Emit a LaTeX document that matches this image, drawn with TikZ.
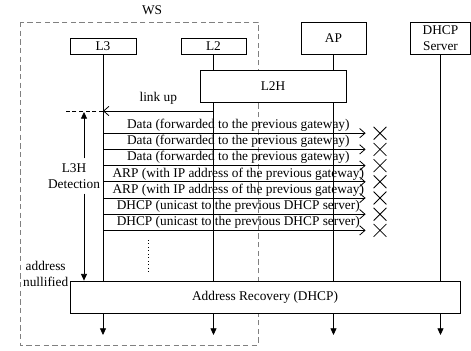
\documentclass[tikz,border=0pt]{standalone}
\usepackage{fontspec}
\setmainfont{Liberation Serif}
\usetikzlibrary{arrows.meta,positioning,shapes.misc}

\begin{document}
\begin{tikzpicture}[x=0.75pt,y=-0.75pt,
  line width=0.6pt,
  font=\fontsize{10}{12.5}\selectfont,
  block/.style={draw,fill=white,inner sep=0pt,align=center},
  wsbox/.style={draw=gray,dash pattern=on 4pt off 2.5pt},
  msg/.style={-{Straight Barb[length=4pt,width=7pt]}},
  life/.style={-{Triangle[length=5pt,width=4.5pt]}},
  lost/.style={cross out,draw,minimum size=9pt,inner sep=0pt}]

  \useasboundingbox (0,0) rectangle (471,350);

  % work station
  \node (ws) at (152,10) {WS};
  \draw[wsbox] (20,22) rectangle (258,345);

  \node[block,minimum width=49.5pt,minimum height=12pt] (l3) at (103,46) {L3};
  \node[block,minimum width=48.75pt,minimum height=12pt] (l2) at (213.5,46) {L2};
  \node[block,minimum width=48.75pt,minimum height=24pt] (ap) at (333.5,38) {AP};
  \node[block,minimum width=45pt,minimum height=24pt] (dhcp) at (440.5,38) {DHCP\\Server};

  \node[block,minimum width=109.5pt,minimum height=24pt] (l2h) at (273,86) {L2H};
  \node[block,minimum width=292.5pt,minimum height=24pt] (ar) at (265,297)
  {Address Recovery (DHCP)};

  % life lines
  \draw (l3.south) -- (l3.south |- ar.north);
  \draw (l2.south) -- (l2.south |- l2h.north);
  \draw (l2.south |- l2h.south) -- (l2.south |- ar.north);
  \draw (ap.south) -- (ap.south |- l2h.north);
  \draw (ap.south |- l2h.south) -- (ap.south |- ar.north);
  \draw (dhcp.south) -- (dhcp.south |- ar.north);

  \coordinate (bottom) at (0,335);
  \foreach \n in {l3,l2,ap,dhcp}
    \draw[life] (\n.south |- ar.south) -- (\n.south |- bottom);

  % link up
  \coordinate (lu) at (0,111);
  \coordinate (dstart) at (66,111);
  \draw[msg] (l2.south |- lu) -- node[above=1pt] (lutxt) {link up} (l3.south |- lu);
  \draw[dash pattern=on 3pt off 2pt] (l3.south |- lu) -- (dstart);

  % detection
  \node[align=center] (det) at (74,176) {L3H\\Detection};
  \coordinate (dtop) at (84,112);
  \draw[life] (det.north -| dtop) -- (dtop);
  \draw[life] (det.south -| dtop) -- (dtop |- ar.north);

  \foreach \txt [count=\i] in {
    {Data (forwarded to the previous gateway)},
    {Data (forwarded to the previous gateway)},
    {Data (forwarded to the previous gateway)},
    {ARP (with IP address of the previous gateway)},
    {ARP (with IP address of the previous gateway)},
    {DHCP (unicast to the previous DHCP server)},
    {DHCP (unicast to the previous DHCP server)}}
  {
    \node[lost] (x\i) at (380,{117+16.2*\i}) {};
    \draw[msg,shorten >=6pt] (l3.south |- x\i) -- node[above,inner sep=1pt] {\txt} (x\i.west);
  }

  \draw[dotted] (148,240) -- (148,274);

  \node[align=center,anchor=east,inner sep=1pt] (null) at (70,274) {address\\nullified};
\end{tikzpicture}
\end{document}
